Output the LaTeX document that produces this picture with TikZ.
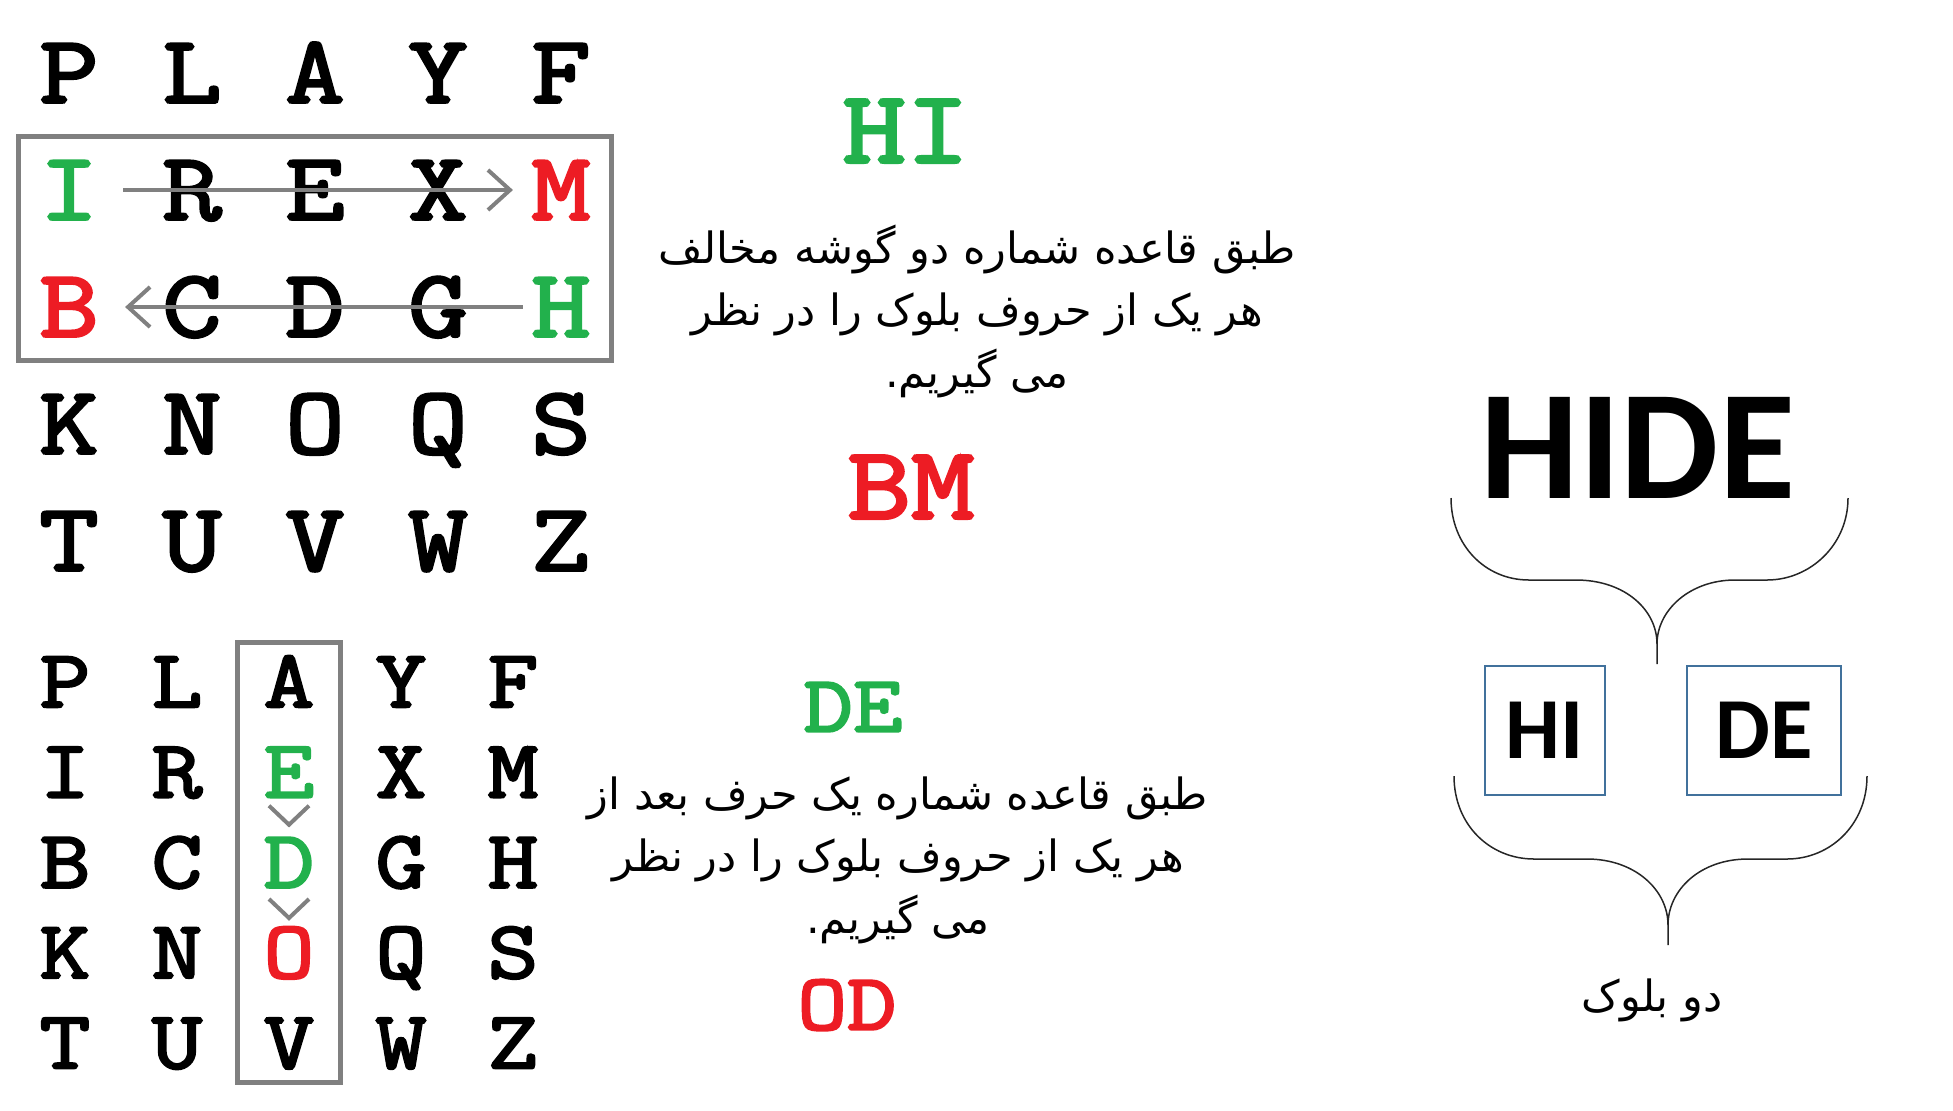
\documentclass[tikz,border=0pt]{standalone}
\usepackage{fontspec}
\newfontfamily\farsi[Script=Arabic]{DejaVu Sans}
\newfontfamily\calib{Carlito}
\newfontfamily\playfont[FakeBold=3,FakeStretch=1.2]{Latin Modern Mono}
\TeXXeTstate=1
\usetikzlibrary{arrows.meta,fit}
\definecolor{pgreen}{RGB}{34,177,76}
\definecolor{pred}{RGB}{237,28,36}
\definecolor{pgray}{RGB}{128,128,128}
\definecolor{pblue}{RGB}{65,113,156}

\begin{document}
\begin{tikzpicture}[x=0.5pt,y=-0.5pt,
  bigletter/.style={inner sep=0pt,font=\playfont\fontsize{48}{54}\selectfont,text height=29.5pt,text depth=0pt},
  smallletter/.style={inner sep=0pt,font=\playfont\fontsize{41}{46}\selectfont,text height=25pt,text depth=0pt},
  pairbig/.style={inner sep=0pt,font=\playfont\fontsize{51.5}{56}\selectfont,text height=31.5pt,text depth=0pt},
  pairsmall/.style={inner sep=0pt,font=\playfont\fontsize{40}{46}\selectfont,text height=24.5pt,text depth=0pt},
  framebox/.style={draw=pgray,line width=2.5pt,inner sep=0pt},
  swap/.style={draw=pgray,line width=2pt,-{Straight Barb[length=11pt,width=20pt]}},
  chevron/.style={draw=pgray,line width=2pt},
  note/.style={align=center,font=\farsi\fontsize{21.5}{31}\selectfont},
  blockbox/.style={draw=pblue,line width=1pt,minimum height=64.5pt,inner sep=0pt,font=\calib\bfseries\fontsize{43.5}{48}\selectfont},
  brace/.style={draw=black!85,line width=0.75pt}]
\useasboundingbox (0,0) rectangle (1953,1110);
% first square: row rule
\foreach \row [count=\r] in {{P/black,L/black,A/black,Y/black,F/black},{I/pgreen,R/black,E/black,X/black,M/pred},{B/pred,C/black,D/black,G/black,H/pgreen},{K/black,N/black,O/black,Q/black,S/black},{T/black,U/black,V/black,W/black,Z/black}}
  \foreach \ch/\col [count=\c] in \row
    \node[bigletter,text=\col] (t-\r-\c) at ({69+123*(\c-1)},{73+117*(\r-1)}) {\ch};
\node[framebox,fit=(t-2-1)(t-3-5),inner xsep=10pt,inner ysep=12pt] (rowbox) {};
\draw[swap] ([xshift=12pt]t-2-1.east) -- ([xshift=-9pt]t-2-5.west);
\draw[swap] ([xshift=-4pt]t-3-5.west) -- ([xshift=13pt]t-3-1.east);
% second square: column rule
\foreach \row [count=\r] in {{P/black,L/black,A/black,Y/black,F/black},{I/black,R/black,E/pgreen,X/black,M/black},{B/black,C/black,D/pgreen,G/black,H/black},{K/black,N/black,O/pred,Q/black,S/black},{T/black,U/black,V/black,W/black,Z/black}}
  \foreach \ch/\col [count=\c] in \row
    \node[smallletter,text=\col] (b-\r-\c) at ({65+112*(\c-1)},{682+90.3*(\r-1)}) {\ch};
\node[framebox,fit=(b-1-3)(b-5-3),inner xsep=13pt,inner ysep=7pt] (colbox) {};
\draw[chevron] ([xshift=-10pt,yshift=-4pt]b-2-3.south) -- ++(20,19) -- ++(20,-19);
\draw[chevron] ([xshift=-10pt,yshift=-5.5pt]b-3-3.south) -- ++(20,19) -- ++(20,-19);
% pairs and rules
\node[pairbig,text=pgreen] (hi) at (906,131) {HI};
\node[note] (rule2) at (977,311) {\beginR طبق قاعده شماره دو گوشه مخالف\endR\\\beginR هر یک از حروف بلوک را در نظر\endR\\\beginR می گیریم.\endR};
\node[pairbig,text=pred] (bm) at (911,487) {BM};
\node[pairsmall,text=pgreen] (de) at (853,707) {DE};
\node[note] (rule1) at (898,860) {\beginR طبق قاعده شماره یک حرف بعد از\endR\\\beginR هر یک از حروف بلوک را در نظر\endR\\\beginR می گیریم.\endR};
\node[pairsmall,text=pred] (od) at (847,1005) {OD};
% splitting the word
\node[inner sep=0pt,font=\calib\bfseries\fontsize{78}{80}\selectfont,text height=50pt,text depth=0pt] (hide) at (1638,448) {HIDE};
\draw[brace] (1451,498) .. controls (1451,545) and (1485,580) .. (1529,580) -- (1576,580) .. controls (1625,580) and (1657,610) .. (1657,644) -- (1657,664);
\draw[brace] (1848,498) .. controls (1848,545) and (1810,580) .. (1767,580) -- (1735,580) .. controls (1690,580) and (1657,610) .. (1657,644);
\node[blockbox,minimum width=60pt] (blk-hi) at (1545,730) {HI};
\node[blockbox,minimum width=77pt] (blk-de) at (1764,730) {DE};
\draw[brace] (1454,776) .. controls (1454,825) and (1490,859) .. (1534,859) -- (1587,859) .. controls (1635,859) and (1668,890) .. (1668,925) -- (1668,945);
\draw[brace] (1867,776) .. controls (1867,825) and (1830,859) .. (1787,859) -- (1748,859) .. controls (1700,859) and (1668,890) .. (1668,925);
\node[note] (two) at (1652,1000) {\beginR دو بلوک\endR};
\end{tikzpicture}
\end{document}
